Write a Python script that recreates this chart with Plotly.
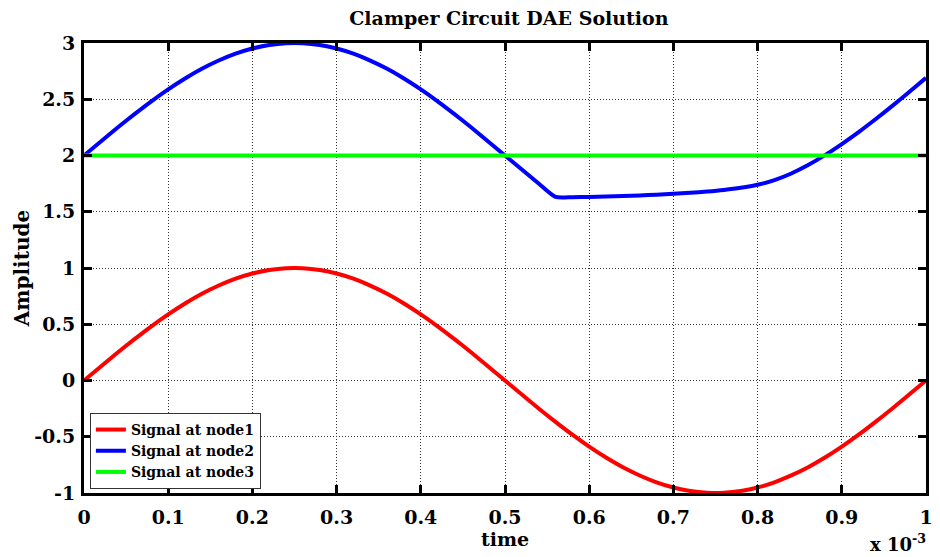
import plotly.graph_objects as go

# Sample times in milliseconds (axis is scaled by 10^-3)
time_ms = [0.00, 0.02, 0.04, 0.06, 0.08, 0.10, 0.12, 0.14, 0.16, 0.18,
           0.20, 0.22, 0.24, 0.26, 0.28, 0.30, 0.32, 0.34, 0.36, 0.38,
           0.40, 0.42, 0.44, 0.46, 0.48, 0.50, 0.52, 0.54, 0.56, 0.58,
           0.60, 0.62, 0.64, 0.66, 0.68, 0.70, 0.72, 0.74, 0.76, 0.78,
           0.80, 0.82, 0.84, 0.86, 0.88, 0.90, 0.92, 0.94, 0.96, 0.98,
           1.00]

# Input sine at node 1
node1 = [0.000, 0.125, 0.249, 0.368, 0.482, 0.588, 0.685, 0.771, 0.844, 0.905,
         0.951, 0.982, 0.998, 0.998, 0.982, 0.951, 0.905, 0.844, 0.771, 0.685,
         0.588, 0.482, 0.368, 0.249, 0.125, 0.000, -0.125, -0.249, -0.368, -0.482,
         -0.588, -0.685, -0.771, -0.844, -0.905, -0.951, -0.982, -0.998, -0.998, -0.982,
         -0.951, -0.905, -0.844, -0.771, -0.685, -0.588, -0.482, -0.368, -0.249, -0.125,
         0.000]

# Clamped output at node 2
node2 = [2.000, 2.125, 2.249, 2.368, 2.482, 2.588, 2.685, 2.771, 2.844, 2.905,
         2.951, 2.982, 2.998, 2.998, 2.982, 2.951, 2.905, 2.844, 2.771, 2.685,
         2.588, 2.482, 2.368, 2.249, 2.125, 2.000, 1.875, 1.751, 1.632, 1.630,
         1.632, 1.636, 1.640, 1.645, 1.652, 1.660, 1.669, 1.680, 1.694, 1.713,
         1.740, 1.781, 1.840, 1.915, 2.003, 2.102, 2.208, 2.322, 2.441, 2.565,
         2.690]

# DC reference at node 3
node3 = [2.0] * len(time_ms)

series_names = ["Signal at node1", "Signal at node2", "Signal at node3"]
series_colors = ["#ff0000", "#0000ff", "#00ff00"]

x_ticks = [0, 0.1, 0.2, 0.3, 0.4, 0.5, 0.6, 0.7, 0.8, 0.9, 1]
x_tick_text = ["0", "0.1", "0.2", "0.3", "0.4", "0.5", "0.6", "0.7", "0.8", "0.9", "1"]
y_ticks = [-1, -0.5, 0, 0.5, 1, 1.5, 2, 2.5, 3]
y_tick_text = ["-1", "-0.5", "0", "0.5", "1", "1.5", "2", "2.5", "3"]

FONT = "DejaVu Serif"

fig = go.Figure()
for name, ys, col in zip(series_names, [node1, node2, node3], series_colors):
    fig.add_trace(go.Scatter(x=time_ms, y=ys, mode="lines", name=name,
                             line=dict(color=col, width=4, shape="spline",
                                       smoothing=0.6)))

axis_common = dict(
    showline=True, linecolor="black", linewidth=3, mirror="ticks",
    ticks="inside", ticklen=8, tickwidth=3, tickcolor="black",
    showgrid=True, gridcolor="#333333", gridwidth=1, griddash="1px,2px",
    zeroline=False,
    tickfont=dict(family=FONT, size=19, color="black", weight="bold"),
)

fig.update_xaxes(range=[0, 1], tickvals=x_ticks, ticktext=x_tick_text,
                 ticklabelstandoff=5,
                 title=dict(text="<b>time</b>", standoff=0,
                            font=dict(family=FONT, size=19, color="black")),
                 **axis_common)
fig.update_yaxes(range=[-1, 3], tickvals=y_ticks, ticktext=y_tick_text,
                 ticklabelstandoff=2,
                 title=dict(text="<b>Amplitude</b>", standoff=0,
                            font=dict(family=FONT, size=20, color="black")),
                 **axis_common)

fig.add_annotation(text="<b>x 10<sup>-3</sup></b>", xref="paper", yref="paper",
                   x=1.0, y=0, xanchor="right", yanchor="top", yshift=-36,
                   xshift=2, showarrow=False,
                   font=dict(family=FONT, size=18, color="black"))

fig.update_layout(
    width=940, height=557,
    margin=dict(l=84, r=7, t=43, b=64),
    paper_bgcolor="white", plot_bgcolor="white",
    title=dict(text="<b>Clamper Circuit DAE Solution</b>", x=0.5414, xanchor="center",
               y=0.967, yanchor="middle",
               font=dict(family=FONT, size=19, color="black")),
    legend=dict(x=0.007, y=0.009, xanchor="left", yanchor="bottom",
                bgcolor="white", bordercolor="#333333", borderwidth=1,
                font=dict(family=FONT, size=14, color="black", weight="bold"),
                itemwidth=30, tracegroupgap=0),
    showlegend=True,
)

fig.write_html("out.html")
